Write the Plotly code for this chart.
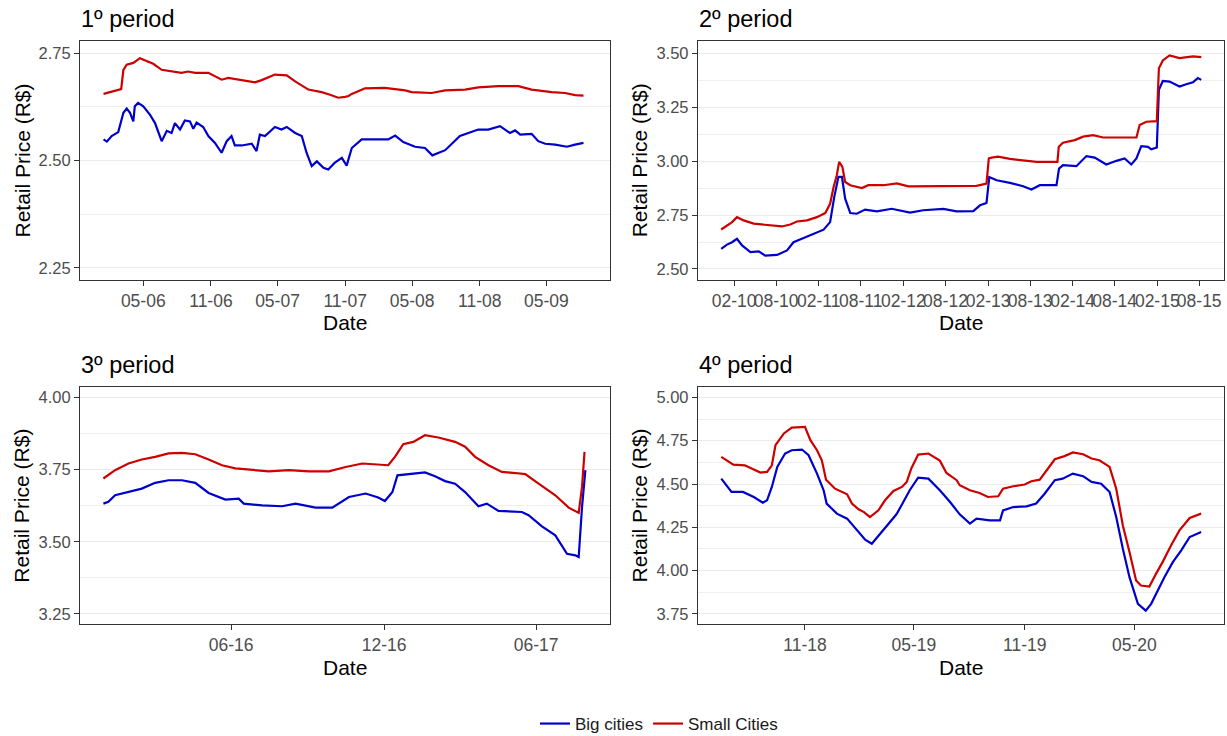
import plotly.graph_objects as go

# ---------------- DATA ----------------
# Period 1
p1_small_dates = ["2006-01-13","2006-01-31","2006-02-22","2006-03-02","2006-03-08","2006-03-17","2006-04-04","2006-04-22",
                  "2006-05-05","2006-05-28","2006-06-20","2006-07-17","2006-08-13","2006-08-31","2006-09-19","2006-10-25",
                  "2006-11-30","2006-12-18","2007-01-24","2007-03-01","2007-03-19","2007-04-24","2007-05-26","2007-06-18",
                  "2007-07-24","2007-08-29","2007-09-21","2007-10-13","2007-11-01","2007-11-10","2007-11-19","2007-12-25",
                  "2008-02-17","2008-04-12","2008-04-30","2008-06-23","2008-07-30","2008-09-22","2008-10-28","2008-12-22",
                  "2009-02-14","2009-03-22","2009-05-16","2009-06-21","2009-07-18","2009-08-10"]
p1_small_price = [2.655,2.659,2.665,2.666,2.711,2.723,2.727,2.738,2.733,2.725,2.711,2.707,2.704,2.707,2.704,2.704,
                  2.688,2.692,2.687,2.682,2.687,2.700,2.698,2.684,2.665,2.659,2.653,2.646,2.648,2.650,2.655,2.668,
                  2.669,2.663,2.659,2.657,2.663,2.665,2.670,2.673,2.673,2.665,2.659,2.657,2.652,2.651]
p1_big_dates = ["2006-01-13","2006-01-22","2006-02-04","2006-02-22","2006-03-08","2006-03-17","2006-03-26","2006-04-04",
                "2006-04-08","2006-04-17","2006-05-01","2006-05-19","2006-06-02","2006-06-20","2006-07-04","2006-07-17",
                "2006-07-26","2006-08-09","2006-08-22","2006-09-05","2006-09-14","2006-09-23","2006-10-11","2006-10-25",
                "2006-11-12","2006-11-30","2006-12-14","2006-12-27","2007-01-05","2007-01-24","2007-02-20","2007-03-05",
                "2007-03-14","2007-03-28","2007-04-24","2007-05-12","2007-05-26","2007-06-18","2007-07-06","2007-07-19",
                "2007-08-02","2007-08-16","2007-09-03","2007-09-16","2007-10-04","2007-10-23","2007-11-05","2007-11-19",
                "2007-12-16","2008-01-30","2008-02-26","2008-03-16","2008-04-07","2008-05-09","2008-06-05","2008-06-25",
                "2008-07-30","2008-09-08","2008-10-28","2008-11-24","2008-12-26","2009-01-22","2009-02-05","2009-02-19",
                "2009-03-22","2009-04-09","2009-04-28","2009-05-25","2009-06-26","2009-07-18","2009-08-10"]
p1_big_price = [2.549,2.544,2.557,2.566,2.611,2.621,2.611,2.591,2.626,2.634,2.626,2.607,2.587,2.545,2.569,2.564,
                2.587,2.572,2.593,2.591,2.574,2.588,2.578,2.557,2.541,2.518,2.545,2.557,2.535,2.535,2.539,2.522,
                2.560,2.557,2.578,2.572,2.578,2.564,2.557,2.518,2.487,2.498,2.483,2.479,2.495,2.506,2.488,2.529,
                2.549,2.549,2.549,2.558,2.543,2.532,2.529,2.512,2.524,2.557,2.572,2.572,2.580,2.564,2.570,2.560,
                2.562,2.545,2.539,2.537,2.532,2.537,2.541]

# Period 2
p2_small_dates = ["2009-12-07","2010-01-01","2010-01-23","2010-02-13","2010-03-14","2010-04-26","2010-06-23","2010-08-26",
                  "2010-10-01","2010-10-30","2010-12-12","2011-01-24","2011-03-01","2011-03-22","2011-04-06","2011-04-20",
                  "2011-04-30","2011-05-14","2011-05-26","2011-06-17","2011-08-06","2011-09-03","2011-11-07","2012-01-04",
                  "2012-02-23","2012-11-15","2012-12-13","2013-01-25","2013-02-04","2013-02-16","2013-03-16","2013-05-06",
                  "2013-07-02","2013-08-29","2013-11-27","2013-12-03","2013-12-21","2014-02-10","2014-03-18","2014-04-30",
                  "2014-06-12","2014-08-23","2014-11-03","2014-11-17","2014-12-16","2015-01-30","2015-02-08","2015-02-25",
                  "2015-03-26","2015-05-08","2015-07-05","2015-08-10"]
p2_small_price = [2.683,2.699,2.717,2.740,2.725,2.710,2.705,2.697,2.706,2.720,2.725,2.740,2.759,2.802,2.880,2.934,
                  2.996,2.973,2.903,2.888,2.875,2.888,2.888,2.896,2.883,2.883,2.885,2.896,3.012,3.016,3.020,3.010,
                  3.004,2.996,2.996,3.066,3.085,3.097,3.113,3.120,3.109,3.109,3.109,3.167,3.182,3.185,3.430,3.466,
                  3.489,3.477,3.485,3.481]
p2_big_dates = ["2009-12-07","2010-01-01","2010-01-23","2010-02-13","2010-03-07","2010-04-12","2010-05-18","2010-06-15",
                "2010-08-05","2010-09-17","2010-10-15","2010-11-27","2011-01-09","2011-02-22","2011-03-22","2011-04-09",
                "2011-04-27","2011-05-12","2011-05-26","2011-06-17","2011-07-15","2011-08-20","2011-10-10","2011-12-13",
                "2012-03-01","2012-04-27","2012-07-23","2012-09-18","2012-11-29","2012-12-28","2013-01-25","2013-02-06",
                "2013-03-10","2013-05-06","2013-07-02","2013-08-07","2013-09-12","2013-11-23","2013-12-04","2013-12-21",
                "2014-02-17","2014-04-01","2014-05-07","2014-06-26","2014-08-09","2014-09-13","2014-10-12","2014-11-03",
                "2014-11-24","2014-12-23","2015-01-06","2015-01-30","2015-02-08","2015-02-25","2015-03-26","2015-05-08",
                "2015-06-06","2015-07-05","2015-07-26","2015-08-10"]
p2_big_price = [2.593,2.613,2.624,2.640,2.609,2.578,2.582,2.562,2.565,2.586,2.624,2.644,2.663,2.682,2.717,2.834,
                2.927,2.927,2.826,2.759,2.756,2.775,2.767,2.779,2.761,2.772,2.778,2.767,2.768,2.795,2.806,2.926,
                2.911,2.899,2.883,2.868,2.888,2.888,2.965,2.981,2.976,3.023,3.016,2.984,3.001,3.012,2.984,3.012,
                3.069,3.066,3.054,3.063,3.330,3.371,3.368,3.345,3.356,3.365,3.384,3.376]

# Period 3
p3_small_dates = ["2015-12-31","2016-01-14","2016-01-30","2016-02-15","2016-03-02","2016-03-18","2016-04-03","2016-04-19",
                  "2016-05-05","2016-05-21","2016-06-06","2016-06-26","2016-07-16","2016-08-09","2016-09-02","2016-09-26",
                  "2016-10-16","2016-11-05","2016-11-21","2016-12-06","2016-12-14","2016-12-24","2017-01-05","2017-01-19",
                  "2017-02-04","2017-02-24","2017-03-08","2017-03-20","2017-04-05","2017-04-21","2017-05-07","2017-05-19",
                  "2017-06-04","2017-06-24","2017-07-10","2017-07-22","2017-07-26","2017-07-29"]
p3_small_price = [3.719,3.748,3.771,3.785,3.794,3.806,3.808,3.803,3.785,3.765,3.754,3.750,3.744,3.748,3.744,3.744,
                  3.759,3.771,3.769,3.765,3.794,3.838,3.846,3.869,3.861,3.846,3.829,3.794,3.765,3.742,3.738,3.734,
                  3.701,3.661,3.618,3.600,3.690,3.811]
p3_big_dates = ["2015-12-31","2016-01-06","2016-01-14","2016-01-30","2016-02-15","2016-03-02","2016-03-18","2016-04-03",
                "2016-04-19","2016-05-05","2016-05-25","2016-06-10","2016-06-16","2016-07-08","2016-08-01","2016-08-17",
                "2016-09-10","2016-09-30","2016-10-20","2016-11-09","2016-11-24","2016-12-02","2016-12-11","2016-12-17",
                "2017-01-03","2017-01-19","2017-01-31","2017-02-12","2017-02-24","2017-03-08","2017-03-24","2017-04-03",
                "2017-04-17","2017-05-15","2017-05-23","2017-06-08","2017-06-24","2017-07-08","2017-07-18","2017-07-22",
                "2017-07-26","2017-07-30"]
p3_big_price = [3.632,3.638,3.661,3.672,3.684,3.704,3.713,3.713,3.704,3.669,3.646,3.649,3.632,3.626,3.623,3.632,
                3.618,3.618,3.655,3.667,3.653,3.641,3.672,3.730,3.736,3.740,3.727,3.710,3.701,3.672,3.623,3.632,
                3.607,3.603,3.592,3.553,3.522,3.458,3.453,3.447,3.620,3.748]

# Period 4
p4_small_dates = ["2018-06-15","2018-06-25","2018-07-05","2018-07-24","2018-08-05","2018-08-19","2018-08-30","2018-09-07",
                  "2018-09-13","2018-09-27","2018-10-10","2018-11-01","2018-11-10","2018-11-21","2018-11-29","2018-12-06",
                  "2018-12-21","2019-01-10","2019-01-18","2019-01-29","2019-02-07","2019-02-17","2019-03-03","2019-03-14",
                  "2019-03-28","2019-04-11","2019-04-19","2019-04-27","2019-05-08","2019-05-25","2019-06-13","2019-06-24",
                  "2019-07-11","2019-07-16","2019-08-02","2019-08-18","2019-09-01","2019-09-18","2019-09-26","2019-10-13",
                  "2019-11-01","2019-11-12","2019-11-26","2019-12-10","2019-12-21","2020-01-06","2020-01-20","2020-02-06",
                  "2020-02-20","2020-03-04","2020-03-21","2020-04-01","2020-04-12","2020-04-23","2020-05-04","2020-05-12",
                  "2020-05-26","2020-06-06","2020-06-17","2020-07-01","2020-07-15","2020-08-01","2020-08-20"]
p4_small_price = [4.657,4.637,4.612,4.608,4.589,4.566,4.570,4.608,4.724,4.792,4.826,4.830,4.753,4.695,4.637,4.525,
                  4.473,4.441,4.387,4.354,4.338,4.309,4.348,4.406,4.460,4.483,4.512,4.593,4.670,4.676,4.635,4.564,
                  4.522,4.493,4.464,4.448,4.425,4.429,4.473,4.487,4.497,4.516,4.525,4.595,4.643,4.661,4.682,4.672,
                  4.647,4.637,4.599,4.473,4.261,4.107,3.943,3.914,3.908,3.981,4.049,4.145,4.232,4.304,4.329]
p4_big_dates = ["2018-06-15","2018-07-02","2018-07-21","2018-08-08","2018-08-23","2018-08-30","2018-09-07","2018-09-16",
                "2018-09-29","2018-10-10","2018-10-27","2018-11-07","2018-11-21","2018-12-02","2018-12-07","2018-12-24",
                "2019-01-10","2019-01-26","2019-02-09","2019-02-20","2019-03-06","2019-03-22","2019-04-02","2019-04-12",
                "2019-04-24","2019-05-08","2019-05-25","2019-06-13","2019-06-30","2019-07-16","2019-08-02","2019-08-13",
                "2019-09-04","2019-09-21","2019-09-26","2019-10-13","2019-11-04","2019-11-20","2019-12-04","2019-12-21",
                "2020-01-03","2020-01-20","2020-02-06","2020-02-20","2020-03-07","2020-03-21","2020-04-01","2020-04-12",
                "2020-04-23","2020-05-07","2020-05-20","2020-05-29","2020-06-09","2020-06-20","2020-07-04","2020-07-18",
                "2020-08-01","2020-08-20"]
p4_big_price = [4.531,4.454,4.454,4.425,4.392,4.406,4.483,4.599,4.676,4.695,4.699,4.666,4.560,4.464,4.387,4.329,
                4.300,4.232,4.178,4.155,4.213,4.280,4.325,4.387,4.464,4.537,4.531,4.464,4.396,4.325,4.271,4.300,
                4.290,4.290,4.348,4.367,4.371,4.387,4.444,4.522,4.531,4.560,4.545,4.512,4.502,4.454,4.309,4.126,
                3.962,3.808,3.769,3.808,3.885,3.962,4.049,4.117,4.194,4.223]

# Tick positions / labels
p1_tickvals = ["2006-05-01","2006-11-01","2007-05-01","2007-11-01","2008-05-01","2008-11-01","2009-05-01"]
p1_ticktext = ["05-06","11-06","05-07","11-07","05-08","11-08","05-09"]
p2_tickvals = ["2010-02-01","2010-08-01","2011-02-01","2011-08-01","2012-02-01","2012-08-01",
               "2013-02-01","2013-08-01","2014-02-01","2014-08-01","2015-02-01","2015-08-01"]
p2_ticktext = ["02-10","08-10","02-11","08-11","02-12","08-12","02-13","08-13","02-14","08-14","02-15","08-15"]
p3_tickvals = ["2016-06-01","2016-12-01","2017-06-01"]
p3_ticktext = ["06-16","12-16","06-17"]
p4_tickvals = ["2018-11-01","2019-05-01","2019-11-01","2020-05-01"]
p4_ticktext = ["11-18","05-19","11-19","05-20"]

titles = ["1º period", "2º period", "3º period", "4º period"]
series_names = ["Big cities", "Small Cities"]

# ---------------- LAYOUT HELPERS ----------------
W, H = 1227, 736
BLUE, RED = "#0000CD", "#CD0000"
FONT = "Liberation Sans, Arial, sans-serif"

def fx(px):
    return px / W

def fy(py):
    return 1 - py / H

panels = [
    dict(box=(80, 609.6, 41, 280), xr=["2005-11-10", "2009-10-20"], yr=[2.222, 2.778], y0=2.25,
         big=(p1_big_dates, p1_big_price), small=(p1_small_dates, p1_small_price),
         tv=p1_tickvals, tt=p1_ticktext),
    dict(box=(697.8, 1224, 41, 280), xr=["2009-08-28", "2015-11-16"], yr=[2.449, 3.556], y0=2.5,
         big=(p2_big_dates, p2_big_price), small=(p2_small_dates, p2_small_price),
         tv=p2_tickvals, tt=p2_ticktext),
    dict(box=(80, 609.6, 387, 624.3), xr=["2015-12-03", "2017-08-28"], yr=[3.214, 4.036], y0=3.25,
         big=(p3_big_dates, p3_big_price), small=(p3_small_dates, p3_small_price),
         tv=p3_tickvals, tt=p3_ticktext),
    dict(box=(697.8, 1224, 387, 624.3), xr=["2018-05-07", "2020-09-27"], yr=[3.69, 5.06], y0=3.75,
         big=(p4_big_dates, p4_big_price), small=(p4_small_dates, p4_small_price),
         tv=p4_tickvals, tt=p4_ticktext),
]

fig = go.Figure()
annotations = []
layout_axes = {}

for i, p in enumerate(panels):
    n = i + 1
    xa = "x" if n == 1 else f"x{n}"
    ya = "y" if n == 1 else f"y{n}"
    x0, x1, ytop, ybot = p["box"]
    for (d, v), name, col in [(p["big"], series_names[0], BLUE), (p["small"], series_names[1], RED)]:
        fig.add_trace(go.Scatter(
            x=d, y=v, mode="lines", name=name, legendgroup=name, showlegend=(n == 1),
            line=dict(color=col, width=2.2), xaxis=xa, yaxis=ya, hoverinfo="skip"))

    layout_axes[f"xaxis{'' if n == 1 else n}"] = dict(
        domain=[fx(x0), fx(x1)], anchor=ya, type="date", range=p["xr"],
        tickvals=p["tv"], ticktext=p["tt"], tickangle=0,
        showgrid=False, zeroline=False, showline=True, mirror=True,
        linecolor="#333333", linewidth=1, ticks="outside", ticklen=5, tickcolor="#333333",
        tickfont=dict(size=17.5, color="#4D4D4D", family=FONT), automargin=False)
    layout_axes[f"yaxis{'' if n == 1 else n}"] = dict(
        domain=[fy(ybot), fy(ytop)], anchor=xa, range=p["yr"],
        tick0=p["y0"], dtick=0.25, tickformat=".2f",
        showgrid=True, gridcolor="#EBEBEB", gridwidth=1, zeroline=False,
        minor=dict(showgrid=True, gridcolor="#EFEFEF", gridwidth=1, dtick=0.125, tick0=p["y0"]),
        showline=True, mirror=True, linecolor="#333333", linewidth=1,
        ticks="outside", ticklen=5, tickcolor="#333333",
        tickfont=dict(size=16.5, color="#4D4D4D", family=FONT), automargin=False)

    # panel title
    annotations.append(dict(text=titles[i], x=fx(x0 - 1), y=fy(ytop - 22), xref="paper", yref="paper",
                            xanchor="left", yanchor="middle", showarrow=False,
                            font=dict(size=23.5, color="black", family=FONT)))
    # x axis title
    annotations.append(dict(text="Date", x=fx((x0 + x1) / 2), y=fy(ybot + 43), xref="paper", yref="paper",
                            xanchor="center", yanchor="middle", showarrow=False,
                            font=dict(size=21, color="black", family=FONT)))
    # y axis title
    annotations.append(dict(text="Retail Price (R$)", x=fx(x0 - 58), y=fy((ytop + ybot) / 2),
                            xref="paper", yref="paper", xanchor="center", yanchor="middle",
                            textangle=-90, showarrow=False,
                            font=dict(size=21, color="black", family=FONT)))

fig.update_layout(
    width=W, height=H, margin=dict(l=0, r=0, t=0, b=0, autoexpand=False),
    paper_bgcolor="white", plot_bgcolor="white",
    font=dict(family=FONT),
    annotations=annotations,
    showlegend=True,
    legend=dict(orientation="h", x=fx(659), xanchor="center", y=fy(724), yanchor="middle",
                font=dict(size=17, color="#1A1A1A", family=FONT), itemwidth=30,
                bgcolor="rgba(0,0,0,0)"),
    **layout_axes,
)

fig.write_html("out.html")
